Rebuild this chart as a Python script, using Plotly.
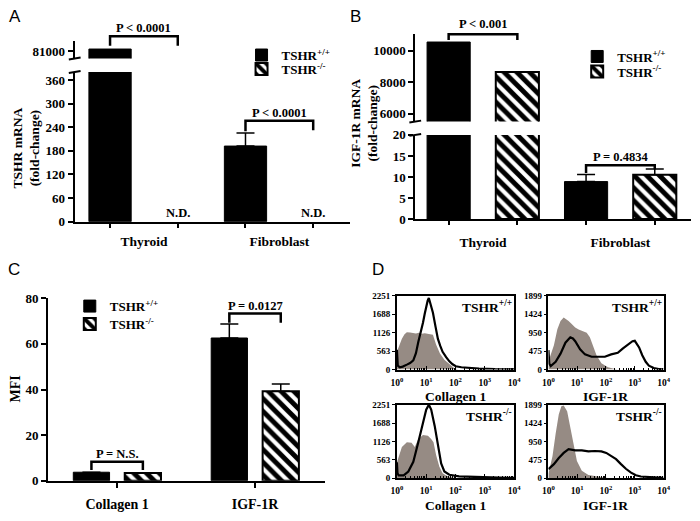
import numpy as np
import plotly.graph_objects as go

W, H = 700, 521
def X(p): return p / W
def Y(p): return 1 - p / H

SERIF = "Liberation Serif"
SANS = "Liberation Sans"

# ---------------- data ----------------
groups_ab = ["Thyroid", "Fibroblast"]
tshr_wt = [81350, 192]
tshr_wt_err = [None, 33]
tshr_ko = [None, None]            # N.D. (not detected)
tshr_p = ["P < 0.0001", "P < 0.0001"]
tshr_ticks_low = [0, 60, 120, 180, 240, 300, 360]
tshr_ticks_high = [81000]

igf_wt = [10550, 8.9]
igf_wt_err = [None, 1.7]
igf_ko = [8650, 10.5]
igf_ko_err = [None, 1.4]
igf_p = ["P < 0.001", "P = 0.4834"]
igf_ticks_low = [0, 5, 10, 15, 20]
igf_ticks_high = [6000, 8000, 10000]

markers_c = ["Collagen 1", "IGF-1R"]
mfi_wt = [3.7, 62.6]
mfi_wt_err = [None, 6.1]
mfi_ko = [3.4, 39.2]
mfi_ko_err = [None, 3.2]
mfi_p = ["P = N.S.", "P = 0.0127"]
mfi_ticks = [0, 20, 40, 60, 80]

series_names = ["TSHR<sup>+/+</sup>", "TSHR<sup>-/-</sup>"]

# flow cytometry histograms (log10 intensity, event count)
col_wt_iso_log = [0, 0.08, 0.17, 0.26, 0.34, 0.45, 0.55, 0.65, 0.75, 0.85, 0.95, 1.05, 1.15, 1.23, 1.34, 1.47, 1.62, 1.81, 1.95, 2.1]
col_wt_iso_n = [540, 720, 940, 1080, 1140, 1130, 1110, 1100, 1120, 1090, 1110, 1100, 1090, 1060, 760, 490, 300, 150, 50, 0]
col_wt_ab_log = [0, 0.03, 0.1, 0.2, 0.34, 0.45, 0.56, 0.65, 0.73, 0.82, 0.89, 0.95, 1.0, 1.05, 1.09, 1.15, 1.23, 1.32, 1.4, 1.48, 1.56, 1.68, 1.79, 1.9, 2.01, 2.2, 2.46, 2.8, 3.35, 4.0]
col_wt_ab_n = [600, 120, 70, 90, 150, 200, 280, 500, 840, 1150, 1430, 1700, 1930, 2100, 2180, 2000, 1730, 1300, 935, 720, 540, 380, 250, 160, 100, 70, 50, 30, 10, 5]

igf_wt_iso_log = [0, 0.08, 0.19, 0.31, 0.42, 0.53, 0.62, 0.7, 0.8, 0.93, 1.05, 1.16, 1.25, 1.33, 1.44, 1.56, 1.67, 1.84, 2.07, 2.24, 2.41]
igf_wt_iso_n = [207, 400, 625, 1040, 1250, 1340, 1300, 1250, 1180, 1080, 1030, 1000, 980, 950, 830, 590, 370, 165, 60, 30, 0]
igf_wt_ab_log = [0, 0.03, 0.08, 0.25, 0.42, 0.59, 0.76, 0.85, 0.93, 1.1, 1.27, 1.5, 1.73, 1.96, 2.18, 2.41, 2.58, 2.75, 2.92, 3.0, 3.04, 3.15, 3.26, 3.38, 3.49, 3.66, 3.83, 4.0]
igf_wt_ab_n = [500, 150, 90, 200, 410, 690, 830, 800, 730, 520, 390, 330, 330, 330, 390, 430, 540, 640, 730, 740, 700, 570, 370, 200, 100, 40, 10, 5]

col_ko_iso_log = [0, 0.17, 0.34, 0.5, 0.61, 0.73, 0.89, 1.06, 1.17, 1.25, 1.34, 1.45, 1.56, 1.68, 1.84, 2.01]
col_ko_iso_n = [480, 950, 1100, 1080, 950, 1200, 1320, 1300, 1200, 1100, 700, 350, 150, 80, 30, 0]
col_ko_ab_log = [0, 0.02, 0.06, 0.23, 0.39, 0.56, 0.73, 0.89, 1.0, 1.09, 1.17, 1.29, 1.4, 1.51, 1.62, 1.79, 2.12, 2.79, 3.5, 4.0]
col_ko_ab_n = [480, 150, 80, 80, 200, 500, 1100, 1750, 2100, 2250, 2100, 1600, 1000, 450, 200, 100, 50, 20, 10, 5]

igf_ko_iso_log = [0, 0.14, 0.25, 0.36, 0.45, 0.53, 0.65, 0.76, 0.87, 0.99, 1.16, 1.39, 1.61, 1.84, 2.07]
igf_ko_iso_n = [108, 565, 1150, 1650, 1857, 1880, 1730, 1315, 815, 440, 190, 80, 50, 20, 0]
igf_ko_ab_log = [0, 0.19, 0.36, 0.53, 0.7, 0.93, 1.16, 1.39, 1.61, 1.84, 2.01, 2.18, 2.35, 2.52, 2.69, 2.87, 3.04, 3.21, 3.43, 3.78, 4.0]
igf_ko_ab_n = [230, 360, 520, 650, 750, 715, 715, 690, 700, 690, 650, 570, 490, 360, 240, 140, 70, 40, 30, 10, 5]

flow_yticks = {"Collagen 1": [0, 563, 1126, 1688, 2251], "IGF-1R": [0, 475, 950, 1424, 1899]}
flow_xticks = [1, 10, 100, 1000, 10000]

# ---------------- styles ----------------
def fnt(size, family=SERIF, bold=True):
    return dict(family=family, size=size, color="black", weight="bold" if bold else "normal")

WT_MARK = dict(color="black", line=dict(color="black", width=1))
KO_MARK = dict(color="white", line=dict(color="black", width=2),
               pattern=dict(shape="\\", fgcolor="black", fgopacity=1, bgcolor="white",
                            size=9, solidity=0.55))
ERR = dict(type="data", symmetric=False, color="black", thickness=1.5, width=9)

fig = go.Figure()

def bar_pair(xa, ya, cats, wt, ko, wt_err, ko_err, width, off_wt, off_ko, legs, showlegend=True):
    e_wt = dict(ERR, array=wt_err, arrayminus=[0] * len(cats)) if wt_err else None
    e_ko = dict(ERR, array=ko_err, arrayminus=[0] * len(cats)) if ko_err else None
    fig.add_trace(go.Bar(x=cats, y=wt, name=series_names[0], marker=WT_MARK, width=width,
                         offset=off_wt, error_y=e_wt, xaxis=xa, yaxis=ya,
                         legend=legs[0], showlegend=showlegend))
    fig.add_trace(go.Bar(x=cats, y=ko, name=series_names[1], marker=KO_MARK, width=width,
                         offset=off_ko, error_y=e_ko, xaxis=xa, yaxis=ya,
                         legend=legs[1], showlegend=showlegend))

# Panel A
wA, oA_wt, oA_ko = 0.312, -0.406, 0.094
bar_pair("x", "y", groups_ab, tshr_wt, tshr_ko, tshr_wt_err, None, wA, oA_wt, oA_ko, ["legend", "legend4"])
bar_pair("x", "y2", groups_ab, tshr_wt, tshr_ko, None, None, wA, oA_wt, oA_ko, ["legend", "legend4"], False)
# Panel B
wB, oB_wt, oB_ko = 0.314, -0.407, 0.093
bar_pair("x3", "y3", groups_ab, igf_wt, igf_ko, igf_wt_err, igf_ko_err, wB, oB_wt, oB_ko, ["legend2", "legend5"])
bar_pair("x3", "y4", groups_ab, igf_wt, igf_ko, None, None, wB, oB_wt, oB_ko, ["legend2", "legend5"], False)
# Panel C
wC, oC_wt, oC_ko = 0.263, -0.318, 0.055
bar_pair("x5", "y5", markers_c, mfi_wt, mfi_ko, mfi_wt_err, mfi_ko_err, wC, oC_wt, oC_ko, ["legend3", "legend6"])

# Panel D
GRAY = "#968b84"
flow = [
    ("x6", "y6", col_wt_iso_log, col_wt_iso_n, col_wt_ab_log, col_wt_ab_n),
    ("x7", "y7", igf_wt_iso_log, igf_wt_iso_n, igf_wt_ab_log, igf_wt_ab_n),
    ("x8", "y8", col_ko_iso_log, col_ko_iso_n, col_ko_ab_log, col_ko_ab_n),
    ("x9", "y9", igf_ko_iso_log, igf_ko_iso_n, igf_ko_ab_log, igf_ko_ab_n),
]
for xa, ya, il, inn, al, an in flow:
    fig.add_trace(go.Scatter(x=np.power(10.0, il), y=inn, mode="lines", fill="tozeroy",
                             fillcolor=GRAY, line=dict(width=0, color=GRAY),
                             xaxis=xa, yaxis=ya, showlegend=False))
    fig.add_trace(go.Scatter(x=np.power(10.0, al), y=an, mode="lines",
                             line=dict(width=2.2, color="black"),
                             xaxis=xa, yaxis=ya, showlegend=False))

# ---------------- axes ----------------
base = dict(showgrid=False, zeroline=False, showline=True, linecolor="black", linewidth=2,
            ticks="outside", ticklen=5, tickwidth=2, tickcolor="black", tickfont=fnt(13))

def centers(off, w, n):
    return [i + off + w / 2 for i in range(n)]

def lin_ticks(vals):
    step = vals[1] - vals[0] if len(vals) > 1 else 100000
    return dict(tickmode="linear", tick0=vals[0], dtick=step, tickformat="d")

lay = {}
# A
rA = [-0.511, 1.518]
lay["xaxis"] = dict(base, domain=[X(70), X(350)], anchor="y", type="category",
                    categoryarray=groups_ab, range=rA, ticks="", ticklabelstandoff=6,
                    tickfont=fnt(13.5))
lay["xaxis2"] = dict(base, overlaying="x", anchor="y", type="linear", range=rA, showline=False,
                     tickmode="array", tickvals=centers(oA_wt, wA, 2) + centers(oA_ko, wA, 2),
                     showticklabels=False)
lay["yaxis"] = dict(base, domain=[Y(221), Y(67)], anchor="x", range=[0, 380], **lin_ticks(tshr_ticks_low))
lay["yaxis2"] = dict(base, domain=[Y(53), Y(35)], anchor="x", range=[80000, 82500], **lin_ticks(tshr_ticks_high))
# B
rB = [-0.493, 1.514]
lay["xaxis3"] = dict(base, domain=[X(417), X(698)], anchor="y3", type="category",
                     categoryarray=groups_ab, range=rB, ticks="", ticklabelstandoff=10,
                     tickfont=fnt(13.5))
lay["xaxis4"] = dict(base, overlaying="x3", anchor="y3", type="linear", range=rB, showline=False,
                     tickmode="array", tickvals=centers(oB_wt, wB, 2) + centers(oB_ko, wB, 2),
                     showticklabels=False)
lay["yaxis3"] = dict(base, domain=[Y(218.3), Y(131.7)], anchor="x3", range=[0, 20], **lin_ticks(igf_ticks_low))
lay["yaxis4"] = dict(base, domain=[Y(118), Y(28)], anchor="x3", range=[5508, 11046], **lin_ticks(igf_ticks_high))
# C
lay["xaxis5"] = dict(base, domain=[X(43), X(325)], anchor="y5", type="category",
                     categoryarray=markers_c, range=[-0.5, 1.507], ticklabelstandoff=5,
                     tickfont=fnt(14))
lay["yaxis5"] = dict(base, domain=[Y(487.7), Y(300)], anchor="x5", range=[0, 80], **lin_ticks(mfi_ticks))
# D
minor_vals = [m * 10 ** k for k in range(4) for m in range(2, 10)]
dx = {"6": [398.3, 517.7], "7": [552.7, 670], "8": [398.3, 517.7], "9": [552.7, 670]}
dy = {"6": [373.3, 297.3], "7": [373.3, 297.3], "8": [485, 409.5], "9": [485, 409.5]}
dmark = {"6": "Collagen 1", "7": "IGF-1R", "8": "Collagen 1", "9": "IGF-1R"}
for k in ["6", "7", "8", "9"]:
    ticks_y = flow_yticks[dmark[k]]
    lay["xaxis" + k] = dict(showgrid=False, zeroline=False, showline=True, linecolor="black",
                            linewidth=1.5, mirror=True, type="log", range=[0, 4],
                            domain=[X(dx[k][0]), X(dx[k][1])], anchor="y" + k,
                            ticks="inside", ticklen=4, tickwidth=1, tickcolor="black",
                            tickmode="array", tickvals=flow_xticks,
                            ticktext=["10<sup>%d</sup>" % round(np.log10(v)) for v in flow_xticks],
                            ticklabelstandoff=3, tickfont=fnt(9.5),
                            minor=dict(ticks="inside", ticklen=2, tickwidth=1, tickcolor="black",
                                       tickmode="array", tickvals=minor_vals))
    lay["yaxis" + k] = dict(showgrid=False, zeroline=False, showline=True, linecolor="black",
                            linewidth=1.5, mirror=True,
                            domain=[Y(dy[k][0]), Y(dy[k][1])], anchor="x" + k,
                            range=[0, ticks_y[-1]], ticks="outside", ticklen=3, tickwidth=1,
                            tickcolor="black", tickfont=fnt(9), tickmode="array",
                            tickvals=ticks_y, ticktext=[str(v) for v in ticks_y])

# ---------------- annotations & shapes ----------------
ann = []
shapes = []

def bracket(xref, x0, x1, top, leg0, leg1, text, ty):
    shapes.append(dict(type="path", xref=xref, yref="paper",
                       path="M %f,%f L %f,%f L %f,%f L %f,%f" % (x0, Y(leg0), x0, Y(top), x1, Y(top), x1, Y(leg1)),
                       line=dict(color="black", width=2.5)))
    ann.append(dict(xref=xref, yref="paper", x=(x0 + x1) / 2, y=Y(ty), text=text, showarrow=False,
                    font=fnt(12.5), xanchor="center", yanchor="middle"))

cA = centers(oA_wt, wA, 2); kA = centers(oA_ko, wA, 2)
bracket("x2", cA[0], kA[0], 30, 40, 40, tshr_p[0], 22)
bracket("x2", cA[1], kA[1], 117, 128, 127, tshr_p[1], 109)
cB = centers(oB_wt, wB, 2); kB = centers(oB_ko, wB, 2)
bracket("x4", cB[0], kB[0], 28, 34, 34, igf_p[0], 18)
bracket("x4", cB[1], kB[1], 163, 171, 167, igf_p[1], 154)
cC = centers(oC_wt, wC, 2); kC = centers(oC_ko, wC, 2)
bracket("x5", cC[0], kC[0], 468.3, 476.7, 476.7, mfi_p[0], 460)
bracket("x5", cC[1], kC[1], 315.7, 325, 325, mfi_p[1], 307.5)

for i, v in enumerate(tshr_ko):
    if v is None:
        ann.append(dict(xref="x2", yref="paper", x=kA[i], y=Y(212), text="N.D.", showarrow=False,
                        font=fnt(12.5), xanchor="center", yanchor="middle"))

# axis break marks
for xp, yp in [(70, 53), (70, 67), (417, 118), (417, 131.7)]:
    shapes.append(dict(type="line", xref="paper", yref="paper", x0=X(xp - 6), y0=Y(yp + 1),
                       x1=X(xp + 6), y1=Y(yp - 1), line=dict(color="black", width=2)))

# y-axis titles
ann.append(dict(xref="paper", yref="paper", x=X(21), y=Y(145), text="TSHR mRNA<br>(fold-change)",
                textangle=-90, showarrow=False, font=fnt(13.5), xanchor="center", yanchor="middle"))
ann.append(dict(xref="paper", yref="paper", x=X(365), y=Y(120), text="IGF-1R mRNA<br>(fold-change)",
                textangle=-90, showarrow=False, font=fnt(13.5), xanchor="center", yanchor="middle"))
ann.append(dict(xref="paper", yref="paper", x=X(10), y=Y(393), text="MFI",
                textangle=-90, showarrow=False, font=fnt(14), xanchor="center", yanchor="middle"))

# panel letters
for t, xp, yp in [("A", 9, 10), ("B", 356, 10), ("C", 8, 270), ("D", 379, 270)]:
    ann.append(dict(xref="paper", yref="paper", x=X(xp), y=Y(yp), text=t, showarrow=False,
                    font=fnt(17, SANS, False), xanchor="center", yanchor="middle"))

# panel D labels
dgeno = {"6": series_names[0], "7": series_names[0], "8": series_names[1], "9": series_names[1]}
for k in ["6", "7", "8", "9"]:
    ann.append(dict(xref="x%s domain" % k, yref="y%s domain" % k, x=1.0, y=1.0, text=dgeno[k],
                    showarrow=False, font=fnt(13.5), xanchor="right", yanchor="top"))
    xc = (dx[k][0] + dx[k][1]) / 2
    ann.append(dict(xref="paper", yref="paper", x=X(xc), y=Y(dy[k][0] + 28), text=dmark[k],
                    showarrow=False, font=fnt(13.5), xanchor="center", yanchor="middle"))

leg = dict(bgcolor="rgba(0,0,0,0)", font=fnt(13), xanchor="left", yanchor="middle",
           tracegroupgap=0, itemwidth=30, borderwidth=0)
fig.update_layout(
    width=W, height=H, autosize=False, margin=dict(l=0, r=0, t=0, b=0, pad=0),
    paper_bgcolor="white", plot_bgcolor="white", barmode="overlay",
    font=fnt(13), annotations=ann, shapes=shapes,
    legend=dict(leg, x=X(240), y=Y(49.5)),
    legend4=dict(leg, x=X(240), y=Y(64)),
    legend2=dict(leg, x=X(582), y=Y(51)),
    legend5=dict(leg, x=X(582), y=Y(66.5)),
    legend3=dict(leg, x=X(65), y=Y(308)),
    legend6=dict(leg, x=X(65), y=Y(326.5)),
    **lay,
)
fig.write_html("out.html", config={"displayModeBar": False},
               post_script="document.body.style.margin='0';")
